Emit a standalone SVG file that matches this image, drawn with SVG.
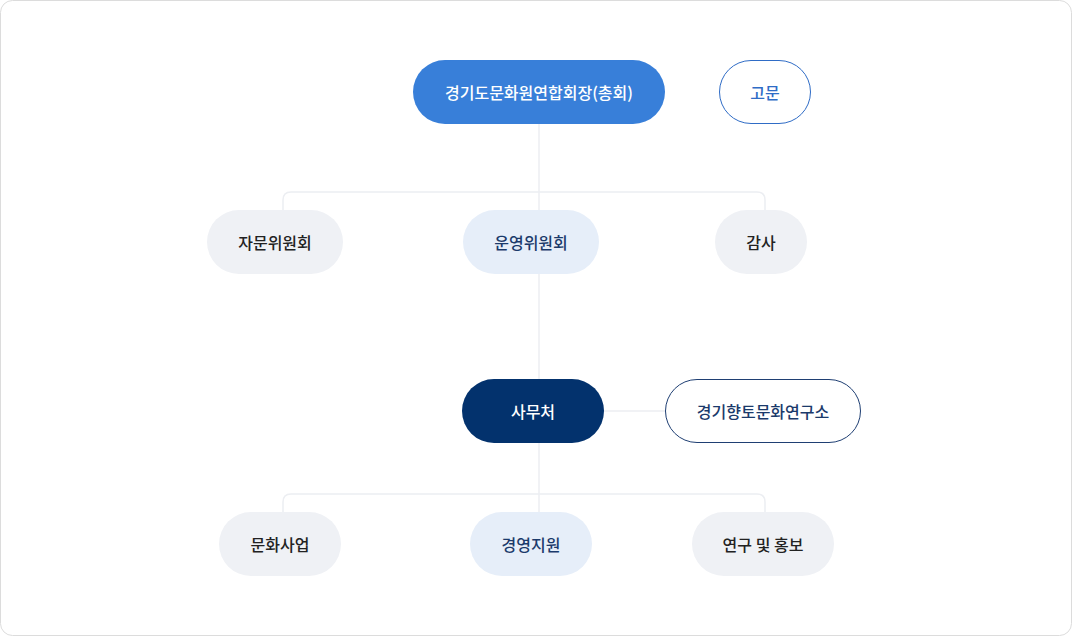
<svg xmlns="http://www.w3.org/2000/svg" width="1072" height="636" viewBox="0 0 1072 636">
<style>
text{font-family:"Noto Sans CJK KR","Noto Sans",sans-serif;font-size:16px;font-weight:500;text-anchor:middle;dominant-baseline:central}
.gray{fill:#eff1f5}
.lite{fill:#e6eef9}
.dark{fill:#222}
.navy{fill:#1b3a6b}
.conn{fill:none;stroke:#eceef2;stroke-width:1.5}
</style>
<rect x="0.5" y="0.5" width="1071" height="635" rx="12" fill="#fff" stroke="#dcdcdc"/>
<g id="connectors">
<path class="conn" d="M539 124V379"/>
<path class="conn" d="M283 210V200q0-8 8-8H757q8 0 8 8v10"/>
<path class="conn" d="M604 411H665"/>
<path class="conn" d="M539 443V512"/>
<path class="conn" d="M283 512V502q0-8 8-8H757q8 0 8 8v10"/>
</g>
<g id="president"><rect x="413" y="60" width="252" height="64" rx="32" fill="#387fd9"/><text x="539" y="92" fill="#fff">경기도문화원연합회장(총회)</text></g>
<g id="advisor"><rect x="719.5" y="60.5" width="91" height="63" rx="31.5" fill="#fff" stroke="#2f6cc6"/><text x="765" y="92" fill="#2f6cc6">고문</text></g>
<g id="advisory-committee"><rect class="gray" x="207" y="210" width="136" height="64" rx="32"/><text class="dark" x="275" y="242">자문위원회</text></g>
<g id="steering-committee"><rect class="lite" x="463" y="210" width="136" height="64" rx="32"/><text class="navy" x="531" y="242">운영위원회</text></g>
<g id="audit"><rect class="gray" x="715" y="210" width="92" height="64" rx="32"/><text class="dark" x="761" y="242">감사</text></g>
<g id="secretariat"><rect x="462" y="379" width="142" height="64" rx="32" fill="#03326d"/><text x="533" y="411" fill="#fff">사무처</text></g>
<g id="institute"><rect x="665.5" y="379.5" width="195" height="63" rx="31.5" fill="#fff" stroke="#1f3f73"/><text class="navy" x="763" y="411">경기향토문화연구소</text></g>
<g id="culture-business"><rect class="gray" x="219" y="512" width="122" height="64" rx="32"/><text class="dark" x="280" y="544">문화사업</text></g>
<g id="management"><rect class="lite" x="470" y="512" width="122" height="64" rx="32"/><text class="navy" x="531" y="544">경영지원</text></g>
<g id="research"><rect class="gray" x="692" y="512" width="142" height="64" rx="32"/><text class="dark" x="763" y="544">연구 및 홍보</text></g>
</svg>
